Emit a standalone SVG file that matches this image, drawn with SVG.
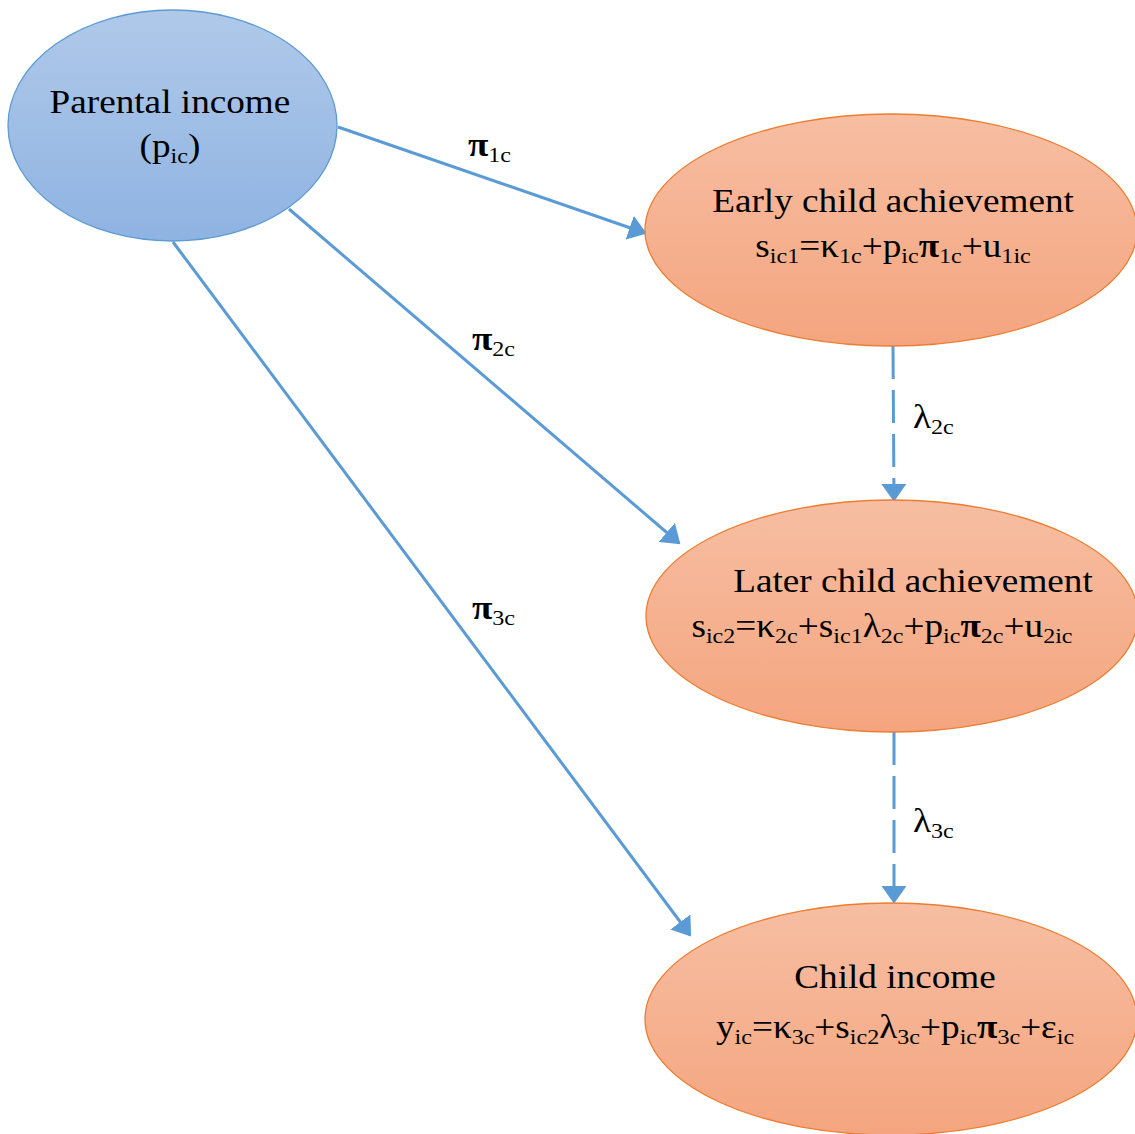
<svg xmlns="http://www.w3.org/2000/svg" width="1135" height="1134" viewBox="0 0 1135 1134">
<defs>
<linearGradient id="gBlue" x1="0" y1="0" x2="0" y2="1">
<stop offset="0" stop-color="#b0c9e9"/>
<stop offset="1" stop-color="#8fb3e2"/>
</linearGradient>
<linearGradient id="gOrange" x1="0" y1="0" x2="0" y2="1">
<stop offset="0" stop-color="#f7bea2"/>
<stop offset="1" stop-color="#f4a57f"/>
</linearGradient>
<marker id="arr" viewBox="0 0 10 14" refX="9" refY="7" markerWidth="6" markerHeight="8.4" markerUnits="strokeWidth" orient="auto">
<path d="M0,0 L10,7 L0,14 Z" fill="#5b9bd5"/>
</marker>
<style>
.blue{fill:url(#gBlue);stroke:#5b9bd5;stroke-width:1.3}
.orange{fill:url(#gOrange);stroke:#ed7d31;stroke-width:1.3}
.t{font-family:"Liberation Serif","Times New Roman",serif;font-size:34px;fill:#000}
.s{font-size:22px}
.p{font-weight:bold}
.edge{stroke:#5b9bd5;stroke-width:3;fill:none;marker-end:url(#arr)}
.dash{stroke-dasharray:33 11}
</style>
</defs>
<g id="connectors">
<line class="edge" x1="338" y1="127" x2="645" y2="233"/>
<line class="edge" x1="289" y1="209" x2="679" y2="543"/>
<line class="edge" x1="173" y1="242" x2="690" y2="935"/>
<line class="edge dash" x1="893" y1="346" x2="894" y2="500"/>
<line class="edge dash" x1="894" y1="732" x2="894" y2="902"/>
<g transform="matrix(1.095,0,0,1,-44.5,0)"><text class="t" x="468" y="156"><tspan class="p">π</tspan><tspan class="s" dy="6">1c</tspan></text></g>
<g transform="matrix(1.095,0,0,1,-44.9,0)"><text class="t" x="472" y="350"><tspan class="p">π</tspan><tspan class="s" dy="6">2c</tspan></text></g>
<g transform="matrix(1.095,0,0,1,-44.9,0)"><text class="t" x="472" y="619"><tspan class="p">π</tspan><tspan class="s" dy="6">3c</tspan></text></g>
<g transform="matrix(1.095,0,0,1,-86.7,0)"><text class="t" x="913" y="428">λ<tspan class="s" dy="6">2c</tspan></text></g>
<g transform="matrix(1.095,0,0,1,-86.7,0)"><text class="t" x="913" y="832">λ<tspan class="s" dy="6">3c</tspan></text></g>
</g>
<g id="parental">
<ellipse class="blue" cx="172.5" cy="125.5" rx="164.5" ry="115.5"/>
<g transform="matrix(1.095,0,0,1,-16.2,0)">
<text class="t" x="170" y="113" text-anchor="middle">Parental income</text>
<text class="t" x="170" y="157" text-anchor="middle">(p<tspan class="s" dy="6">ic</tspan><tspan dy="-6">)</tspan></text>
</g>
</g>
<g id="early">
<ellipse class="orange" cx="891" cy="230" rx="246" ry="116"/>
<g transform="matrix(1.095,0,0,1,-84.8,0)">
<text class="t" x="893" y="212" text-anchor="middle">Early child achievement</text>
<text class="t" x="893" y="257" text-anchor="middle">s<tspan class="s" dy="6">ic1</tspan><tspan dy="-6">=κ</tspan><tspan class="s" dy="6">1c</tspan><tspan dy="-6">+p</tspan><tspan class="s" dy="6">ic</tspan><tspan dy="-6" class="p">π</tspan><tspan class="s" dy="6">1c</tspan><tspan dy="-6">+u</tspan><tspan class="s" dy="6">1ic</tspan></text>
</g>
</g>
<g id="later">
<ellipse class="orange" cx="892" cy="616" rx="246" ry="116"/>
<g transform="matrix(1.095,0,0,1,-86.7,0)">
<text class="t" x="913" y="592" text-anchor="middle">Later child achievement</text>
</g>
<g transform="matrix(1.095,0,0,1,-83.8,0)">
<text class="t" x="882" y="637" text-anchor="middle">s<tspan class="s" dy="6">ic2</tspan><tspan dy="-6">=κ</tspan><tspan class="s" dy="6">2c</tspan><tspan dy="-6">+s</tspan><tspan class="s" dy="6">ic1</tspan><tspan dy="-6">λ</tspan><tspan class="s" dy="6">2c</tspan><tspan dy="-6">+p</tspan><tspan class="s" dy="6">ic</tspan><tspan dy="-6" class="p">π</tspan><tspan class="s" dy="6">2c</tspan><tspan dy="-6">+u</tspan><tspan class="s" dy="6">2ic</tspan></text>
</g>
</g>
<g id="child">
<ellipse class="orange" cx="891" cy="1019" rx="246" ry="116"/>
<g transform="matrix(1.095,0,0,1,-85,0)">
<text class="t" x="895" y="988" text-anchor="middle">Child income</text>
<text class="t" x="895" y="1038" text-anchor="middle">y<tspan class="s" dy="6">ic</tspan><tspan dy="-6">=κ</tspan><tspan class="s" dy="6">3c</tspan><tspan dy="-6">+s</tspan><tspan class="s" dy="6">ic2</tspan><tspan dy="-6">λ</tspan><tspan class="s" dy="6">3c</tspan><tspan dy="-6">+p</tspan><tspan class="s" dy="6">ic</tspan><tspan dy="-6" class="p">π</tspan><tspan class="s" dy="6">3c</tspan><tspan dy="-6">+ε</tspan><tspan class="s" dy="6">ic</tspan></text>
</g>
</g>
</svg>
